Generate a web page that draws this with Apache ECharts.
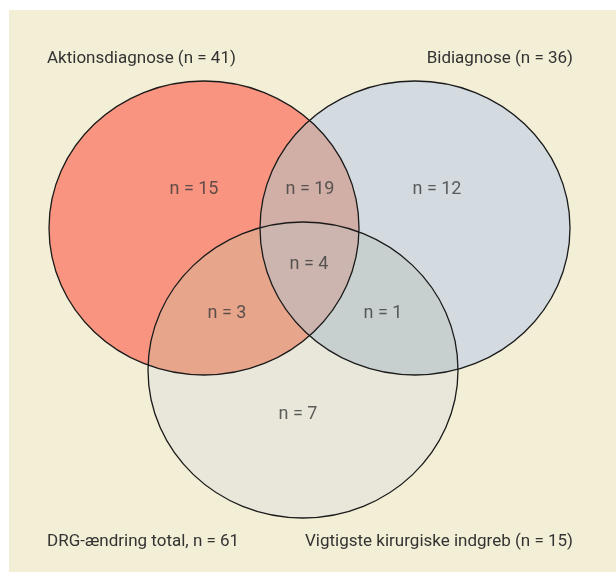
<!DOCTYPE html>
<html>
<head>
<meta charset="utf-8">
<script src="https://cdn.jsdelivr.net/npm/echarts@6/dist/echarts.min.js"></script>
<style>
  html, body { margin: 0; padding: 0; background: #fff; }
  #chart { width: 616px; height: 572px; }
</style>
</head>
<body>
<div id="chart"></div>
<script>
// de tre mængder: navn, antal, centrum og radier (akse-enheder)
const setNames = ['Aktionsdiagnose', 'Bidiagnose', 'Vigtigste kirurgiske indgreb'];
const setTotals = [41, 36, 15];
const grandTotal = 61;
const setCx = [204, 415, 303];
const setCy = [228, 228, 370];
const setRx = [155, 155, 155];
const setRy = [147, 147, 148];

// felterne: 15 kun A, 19 A+B, 12 kun B, 4 alle, 3 A+C, 1 B+C, 7 kun C
const regionCounts = [15, 19, 12, 4, 3, 1, 7];
const regionX = [194, 310, 437, 309, 227, 383, 298];
const regionY = [189, 189, 189, 264, 313, 313, 414];

const fillA = '#f8947f', fillB = '#d3dbe1', fillC = '#e9e7da';
const fillAB = '#d1afa6', fillAC = '#e7a58c', fillBC = '#c8d0cf', fillABC = '#cbb5ae';

const chart = echarts.init(document.getElementById('chart'));

function ell(api, i) {
  const c = api.coord([setCx[i], setCy[i]]);
  const s = api.size([setRx[i], setRy[i]]);
  return { cx: c[0], cy: c[1], rx: s[0], ry: s[1] };
}

function renderFill(params, api) {
  const i = params.dataIndex;
  const e = ell(api, i);
  if (i === 0) {
    return { type: 'ellipse', shape: e, style: { fill: fillA } };
  }
  if (i === 1) {
    return {
      type: 'group',
      children: [
        { type: 'ellipse', shape: e, style: { fill: fillB } },
        { type: 'ellipse', shape: e, clipPath: { type: 'ellipse', shape: ell(api, 0) }, style: { fill: fillAB } }
      ]
    };
  }
  return {
    type: 'group',
    children: [
      { type: 'ellipse', shape: e, style: { fill: fillC } },
      { type: 'ellipse', shape: e, clipPath: { type: 'ellipse', shape: ell(api, 0) }, style: { fill: fillAC } },
      { type: 'ellipse', shape: e, clipPath: { type: 'ellipse', shape: ell(api, 1) }, style: { fill: fillBC } },
      {
        type: 'group',
        clipPath: { type: 'ellipse', shape: ell(api, 0) },
        children: [
          { type: 'ellipse', shape: e, clipPath: { type: 'ellipse', shape: ell(api, 1) }, style: { fill: fillABC } }
        ]
      }
    ]
  };
}

function renderOutline(params, api) {
  return {
    type: 'ellipse',
    shape: ell(api, params.dataIndex),
    style: { fill: 'none', stroke: '#1a1a1a', lineWidth: 1.3 }
  };
}

const setData = setCx.map((x, i) => [x, setCy[i], setRx[i], setRy[i]]);
const titleStyle = { fontSize: 17, fontWeight: 'normal', color: '#333', fontFamily: 'Roboto' };

chart.setOption({
  animation: false,
  graphic: [{
    type: 'rect', left: 9, top: 10, shape: { width: 607, height: 562 },
    style: { fill: '#f3eed6' }, z: -10
  }],
  title: [
    { text: setNames[0] + ' (n = ' + setTotals[0] + ')', left: 47, top: 50, padding: 0, textStyle: titleStyle },
    { text: setNames[1] + ' (n = ' + setTotals[1] + ')', right: 43, top: 50, padding: 0, textStyle: titleStyle },
    { text: 'DRG-ændring total, n = ' + grandTotal, left: 47, top: 533, padding: 0, textStyle: titleStyle },
    { text: setNames[2] + ' (n = ' + setTotals[2] + ')', right: 43, top: 533, padding: 0, textStyle: titleStyle }
  ],
  grid: { left: 0, right: 0, top: 0, bottom: 0 },
  xAxis: { type: 'value', min: 0, max: 616, show: false },
  yAxis: { type: 'value', min: 0, max: 572, inverse: true, show: false },
  series: [
    { type: 'custom', renderItem: renderFill, data: setData, silent: true, z: 1 },
    { type: 'custom', renderItem: renderOutline, data: setData, silent: true, z: 2 },
    {
      type: 'scatter',
      symbolSize: 0,
      z: 3,
      data: regionCounts.map((n, i) => [regionX[i], regionY[i], n]),
      label: {
        show: true, position: 'inside',
        formatter: p => 'n = ' + p.value[2],
        fontSize: 18, color: '#3a3a3a', fontFamily: 'Roboto'
      }
    }
  ]
});
</script>
</body>
</html>
